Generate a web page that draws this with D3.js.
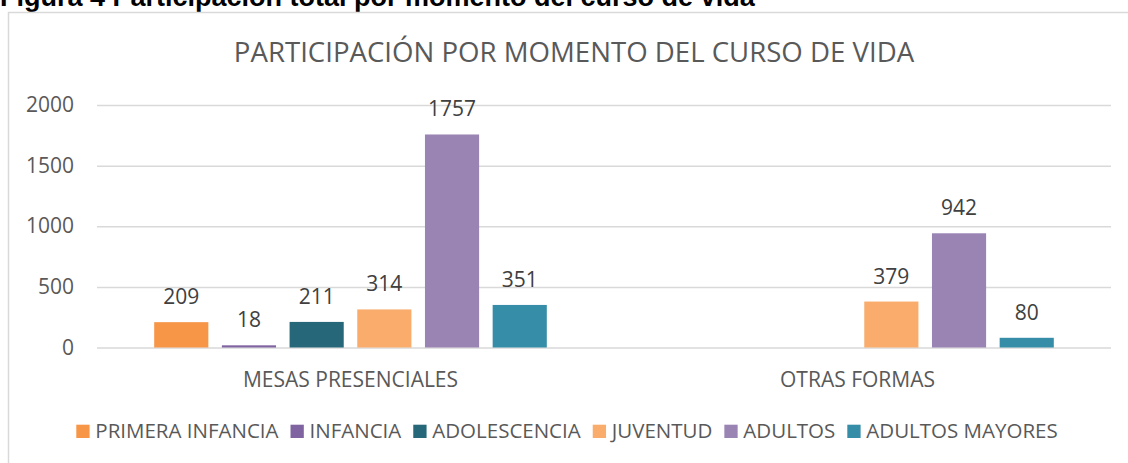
<!DOCTYPE html>
<html>
<head>
<meta charset="utf-8">
<script src="https://cdn.jsdelivr.net/npm/d3@7"></script>
<style>
  body { margin: 0; background: #fff; }
  #chart { width: 1128px; height: 463px; }
</style>
</head>
<body>
<div id="chart"></div>
<script>
// data
const categories = ["MESAS PRESENCIALES", "OTRAS FORMAS"];
const seriesNames = ["PRIMERA INFANCIA", "INFANCIA", "ADOLESCENCIA", "JUVENTUD", "ADULTOS", "ADULTOS MAYORES"];
const seriesColors = ["#F79646", "#8064A2", "#26687A", "#F9AC6B", "#9A84B4", "#368DA7"];
const mesasValues = [209, 18, 211, 314, 1757, 351];
const otrasValues = [null, null, null, 379, 942, 80];
const yTicks = [0, 500, 1000, 1500, 2000];

const width = 1128, height = 463;
const plot = { left: 97, right: 1111, top: 105, bottom: 347.5 };
const textColor = "#595959";
const font = "'Open Sans', sans-serif";

const svg = d3.select("#chart").append("svg")
    .attr("width", width)
    .attr("height", height);

// caption above the chart (cut at the top in the original)
svg.append("text")
    .attr("x", 0)
    .attr("y", 6)
    .style("font-family", "'Liberation Sans', Arial, sans-serif")
    .style("font-weight", "bold")
    .style("font-size", "27px")
    .attr("fill", "#000")
    .text("Figura 4 Participación total por momento del curso de vida");

// chart frame
svg.append("rect")
    .attr("x", 8.5)
    .attr("y", 12.5)
    .attr("width", 1130)
    .attr("height", 470)
    .attr("fill", "none")
    .attr("stroke", "#D9D9D9")
    .attr("stroke-width", 1.5);

// title
svg.append("text")
    .attr("x", 574)
    .attr("y", 62)
    .attr("text-anchor", "middle")
    .style("font-family", font)
    .style("font-size", "27.6px")
    .attr("fill", textColor)
    .text("PARTICIPACIÓN POR MOMENTO DEL CURSO DE VIDA");

const y = d3.scaleLinear()
    .domain([0, 2000])
    .range([plot.bottom, plot.top]);

const x0 = d3.scaleBand()
    .domain(categories)
    .range([plot.left, plot.right])
    .padding(0);

const x1 = d3.scaleBand()
    .domain(seriesNames)
    .range([0, x0.bandwidth()])
    .paddingInner(0.2)
    .paddingOuter(0.845);

// gridlines + y labels
const yAxis = svg.append("g")
    .attr("transform", `translate(${plot.left},0)`)
    .call(d3.axisLeft(y).tickValues(yTicks).tickFormat(d3.format("d"))
        .tickSize(-(plot.right - plot.left)).tickPadding(23));
yAxis.select(".domain").remove();
yAxis.selectAll(".tick line").attr("stroke", "#D9D9D9").attr("stroke-width", 1.5);
yAxis.selectAll(".tick text")
    .style("font-family", font)
    .style("font-size", "21px")
    .attr("fill", textColor);

// category labels
const xAxis = svg.append("g")
    .attr("transform", `translate(0,${plot.bottom})`)
    .call(d3.axisBottom(x0).tickSize(0).tickPadding(25));
xAxis.select(".domain").remove();
xAxis.selectAll(".tick text")
    .style("font-family", font)
    .style("font-size", "21px")
    .attr("fill", textColor);

const rows = [mesasValues, otrasValues];
const cells = [];
categories.forEach((c, i) => {
    seriesNames.forEach((s, j) => {
        if (rows[i][j] != null) cells.push({ cat: c, series: s, value: rows[i][j], color: seriesColors[j] });
    });
});

svg.append("g").selectAll("rect")
    .data(cells)
    .join("rect")
    .attr("x", d => x0(d.cat) + x1(d.series))
    .attr("y", d => y(d.value))
    .attr("width", x1.bandwidth())
    .attr("height", d => y(0) - y(d.value))
    .attr("fill", d => d.color);

svg.append("g").selectAll("text")
    .data(cells)
    .join("text")
    .attr("x", d => x0(d.cat) + x1(d.series) + x1.bandwidth() / 2)
    .attr("y", d => y(d.value) - 18)
    .attr("text-anchor", "middle")
    .style("font-family", font)
    .style("font-size", "21px")
    .attr("fill", "#404040")
    .text(d => d.value);

// legend, centred under the chart
const legend = svg.append("g").attr("transform", "translate(0,438)");
const items = legend.selectAll("g")
    .data(seriesNames)
    .join("g");
items.append("rect")
    .attr("y", -13.3)
    .attr("width", 13.3)
    .attr("height", 13.3)
    .attr("fill", (d, i) => seriesColors[i]);
items.append("text")
    .attr("x", 19)
    .style("font-family", font)
    .style("font-size", "20.5px")
    .attr("fill", textColor)
    .text(d => d);

let pos = 0;
const offsets = [];
items.each(function () {
    const w = 19 + d3.select(this).select("text").node().getComputedTextLength();
    offsets.push(pos);
    pos += w + 12;
});
const total = pos - 12;
const start = 567 - total / 2;
items.attr("transform", (d, i) => `translate(${start + offsets[i]},0)`);
</script>
</body>
</html>
